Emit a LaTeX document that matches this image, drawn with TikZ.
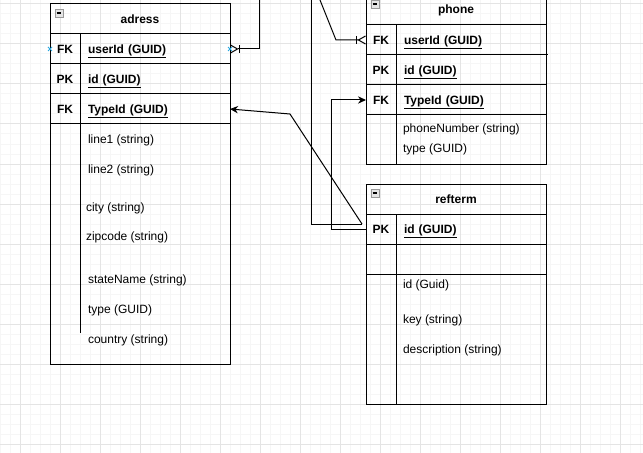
\documentclass[tikz,border=0pt]{standalone}
\usepackage{fontspec}
\setmainfont{Liberation Sans}
\usetikzlibrary{arrows.meta,positioning,shapes.misc}

\definecolor{gridminor}{HTML}{F6F6F6}
\definecolor{gridmajor}{HTML}{E4E4E4}
\definecolor{hintblue}{HTML}{29A8E0}

\begin{document}
\begin{tikzpicture}[x=0.75pt,y=-0.75pt,line width=0.75pt,
    every node/.style={font=\small,outer sep=0pt},
    hdr/.style={draw,minimum width=135pt,minimum height=22.5pt,inner sep=0pt,font=\small\bfseries},
    keycell/.style={draw,minimum width=22.5pt,minimum height=22.5pt,inner sep=0pt,text height=6.5pt,text depth=0pt,font=\small\bfseries},
    fieldcell/.style={draw,text width=100.5pt,inner xsep=6pt,inner ysep=0pt,minimum height=22.5pt,text height=6.5pt,text depth=0pt,align=left,font=\small\bfseries},
    attrbox/.style={draw,minimum width=135pt,inner sep=0pt},
    attr/.style={anchor=west,inner sep=0pt},
    minbtn/.style={draw=gray!80,fill=gray!20,line width=0.5pt,minimum size=6pt,inner sep=0pt},
    hint/.style={draw=hintblue,cross out,line width=0.6pt,minimum size=3pt,inner sep=0pt},
    onemany/.style={{Straight Barb[reversed,length=5.25pt,width=6pt] Bar[width=6pt]}-},
    fkarrow/.style={-{Stealth[length=6pt,width=5.5pt]}}]

  \useasboundingbox[fill=white] (0,0) rectangle (643,453);

  % background grid
  \foreach \gx in {0,10,...,640} \draw[gridminor] (\gx,0) -- (\gx,453);
  \foreach \gy in {4,14,...,444} \draw[gridminor] (0,\gy) -- (643,\gy);
  \foreach \gx in {20,60,...,620} \draw[gridmajor] (\gx,0) -- (\gx,453);
  \foreach \gy in {4,44,...,444} \draw[gridmajor] (0,\gy) -- (643,\gy);

  % adress
  \node[hdr] (ad_hd) at (140,19) {adress};
  \node[minbtn, below right=3.75pt and 3.75pt of ad_hd.north west] {\rule{3.5pt}{0.8pt}};
  \node[keycell, below=0pt of ad_hd.south west, anchor=north west] (ad_k1) {FK};
  \node[fieldcell, right=0pt of ad_k1] (ad_user) {\underline{userId (GUID)}};
  \node[keycell, below=0pt of ad_k1] (ad_k2) {PK};
  \node[fieldcell, right=0pt of ad_k2] (ad_id) {\underline{id (GUID)}};
  \node[keycell, below=0pt of ad_k2] (ad_k3) {FK};
  \node[fieldcell, right=0pt of ad_k3] (ad_type) {\underline{TypeId (GUID)}};
  \node[attrbox, minimum height=180pt, below=0pt of ad_k3.south west, anchor=north west] (ad_attr) {};
  \draw (ad_k3.south east) -- ++(0,209);
  \node[attr] at (88,140) {line1 (string)};
  \node[attr] at (88,170) {line2 (string)};
  \node[attr] at (86,208) {city (string)};
  \node[attr] at (86,237) {zipcode (string)};
  \node[attr] at (88,280) {stateName (string)};
  \node[attr] at (88,310) {type (GUID)};
  \node[attr] at (88,340) {country (string)};
  \node[hint] at (ad_k1.west) {};
  \node[hint] at (ad_user.east) {};

  % phone
  \node[hdr] (ph_hd) at (456,10) {phone};
  \node[minbtn, below right=3.75pt and 3.75pt of ph_hd.north west] {\rule{3.5pt}{0.8pt}};
  \node[keycell, below=0pt of ph_hd.south west, anchor=north west] (ph_k1) {FK};
  \node[fieldcell, right=0pt of ph_k1] (ph_user) {\underline{userId (GUID)}};
  \node[keycell, below=0pt of ph_k1] (ph_k2) {PK};
  \node[fieldcell, right=0pt of ph_k2] (ph_id) {\underline{id (GUID)}};
  \node[keycell, below=0pt of ph_k2] (ph_k3) {FK};
  \node[fieldcell, right=0pt of ph_k3] (ph_type) {\underline{TypeId (GUID)}};
  \node[attrbox, minimum height=36.75pt, below=0pt of ph_k3.south west, anchor=north west] (ph_attr) {};
  \draw (ph_k3.south east) -- (ph_k3.south east |- ph_attr.south);
  \draw (ph_user.south east) -- ++(2,0);
  \node[attr] at (403,129) {phoneNumber (string)};
  \node[attr] at (403,149) {type (GUID)};

  % refterm
  \node[hdr] (rt_hd) at (456,199) {refterm};
  \node[minbtn, below right=3.75pt and 3.75pt of rt_hd.north west] {\rule{3.5pt}{0.8pt}};
  \node[keycell, below=0pt of rt_hd.south west, anchor=north west] (rt_k1) {PK};
  \node[fieldcell, right=0pt of rt_k1] (rt_id) {\underline{id (GUID)}};
  \node[keycell, below=0pt of rt_k1] (rt_k2) {};
  \node[fieldcell, right=0pt of rt_k2] (rt_blank) {};
  \node[attrbox, minimum height=97.5pt, below=0pt of rt_k2.south west, anchor=north west] (rt_attr) {};
  \draw (rt_k2.south east) -- (rt_k2.south east |- rt_attr.south);
  \node[attr] at (403,285) {id (Guid)};
  \node[attr] at (403,320) {key (string)};
  \node[attr] at (403,350) {description (string)};

  % relations
  \coordinate (c_up1) at (259,-5);
  \coordinate (c_up2) at (318,-5);
  \coordinate (c_up3) at (311,-5);
  \coordinate (rt_in) at ([xshift=-3pt,yshift=3.75pt]rt_k1.west);

  \draw[onemany] (ad_user.east) -| (c_up1);
  \draw[onemany] (ph_k1.west) -- ++(-30,0) -- (c_up2);
  \draw (c_up3) |- (rt_in);
  \draw[fkarrow] (rt_in) -- ([xshift=45pt,yshift=-3.75pt]ad_type.east) -- (ad_type.east);
  \draw[fkarrow] (rt_k1.west) -- ++(-35,0) |- (ph_k3.west);
\end{tikzpicture}
\end{document}
